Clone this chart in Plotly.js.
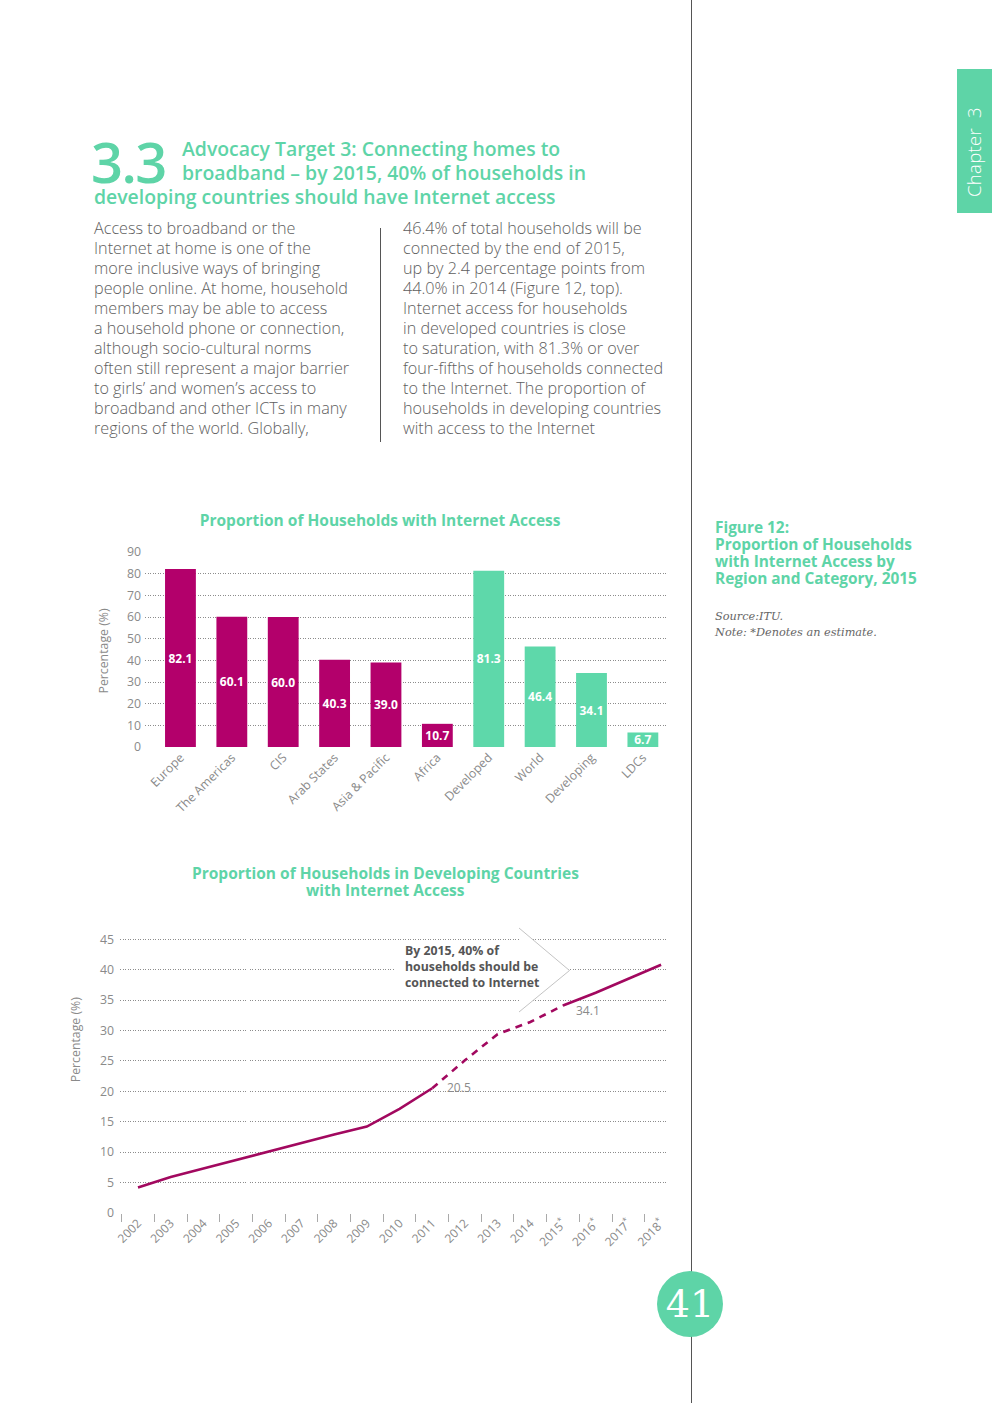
<!DOCTYPE html>
<html>
<head>
<meta charset="utf-8">
<script src="https://cdn.plot.ly/plotly-3.0.1.min.js"></script>
<style>
  html, body { margin:0; padding:0; background:#fff; }
  #page { position:relative; width:992px; height:1403px; overflow:hidden; background:#fff; font-family:"Open Sans", "Liberation Sans", sans-serif; }
  .abs { position:absolute; white-space:nowrap; }
  .teal { color:#5ed4a7; }
  .body { font-size:16.2px; line-height:20px; color:#5e5e5e; font-weight:300; }
  #bar { position:absolute; left:0; top:500px; width:700px; height:340px; }
  #line { position:absolute; left:0; top:850px; width:700px; height:420px; }
</style>
</head>
<body>
<div id="page">
  <!-- vertical page rule -->
  <div class="abs" style="left:691px;top:0;width:1px;height:1403px;background:#555;"></div>
  <!-- chapter tab -->
  <div class="abs" style="left:957px;top:69px;width:35px;height:144px;background:#5ed4a7;"></div>
  <div class="abs" style="left:974px;top:152px;transform:translate(-50%,-50%) rotate(-90deg);color:#fff;font-size:18.5px;line-height:22px;font-weight:300;letter-spacing:0.3px;">Chapter&nbsp;&nbsp;3</div>

  <!-- heading -->
  <div class="abs teal" style="left:91px;top:136px;font-size:56px;line-height:50px;font-weight:600;letter-spacing:-1.5px;">3.3</div>
  <div class="abs teal" style="left:182px;top:137px;font-size:19.4px;line-height:24px;font-weight:600;">Advocacy Target 3: Connecting homes to<br>broadband – by 2015, 40% of households in</div>
  <div class="abs teal" style="left:94px;top:185px;font-size:19.4px;line-height:24px;font-weight:600;">developing countries should have Internet access</div>

  <!-- body text -->
  <div class="abs body" style="left:94px;top:218px;">Access to broadband or the<br>Internet at home is one of the<br>more inclusive ways of bringing<br>people online. At home, household<br>members may be able to access<br>a household phone or connection,<br>although socio-cultural norms<br>often still represent a major barrier<br>to girls’ and women’s access to<br>broadband and other ICTs in many<br>regions of the world. Globally,</div>
  <div class="abs" style="left:380px;top:228px;width:1px;height:214px;background:#555;"></div>
  <div class="abs body" style="left:403px;top:218px;">46.4% of total households will be<br>connected by the end of 2015,<br>up by 2.4 percentage points from<br>44.0% in 2014 (Figure 12, top).<br>Internet access for households<br>in developed countries is close<br>to saturation, with 81.3% or over<br>four-fifths of households connected<br>to the Internet. The proportion of<br>households in developing countries<br>with access to the Internet</div>

  <!-- figure caption -->
  <div class="abs teal" style="left:715px;top:519px;font-size:15.4px;line-height:17px;font-weight:700;">Figure 12:<br>Proportion of Households<br>with Internet Access by<br>Region and Category, 2015</div>
  <div class="abs" style="left:715px;top:609px;font-family:'DejaVu Serif','Liberation Serif',serif;font-style:italic;font-size:11.3px;line-height:16px;color:#666;">Source:ITU.<br>Note: *Denotes an estimate.</div>

  <div id="bar"></div>
  <div id="line"></div>

  <!-- page number -->
  <div class="abs" style="left:657px;top:1271px;width:66px;height:66px;border-radius:50%;background:#5ed4a7;"></div>
  <div class="abs" style="left:690px;top:1304px;transform:translate(-50%,-50%);color:#fff;font-family:'DejaVu Serif','Liberation Serif',serif;font-size:38px;line-height:40px;">41</div>
</div>

<script>
// ---------- data ----------
var barCategories = ["Europe", "The Americas", "CIS", "Arab States", "Asia & Pacific", "Africa", "Developed", "World", "Developing", "LDCs"];
var barValues = [82.1, 60.1, 60.0, 40.3, 39.0, 10.7, 81.3, 46.4, 34.1, 6.7];
var barGroups = ["region", "region", "region", "region", "region", "region", "category", "category", "category", "category"];
var barTicks = [0, 10, 20, 30, 40, 50, 60, 70, 80, 90];

var lineYears = ["2002", "2003", "2004", "2005", "2006", "2007", "2008", "2009", "2010", "2011", "2012", "2013", "2014", "2015<sup>*</sup>", "2016<sup>*</sup>", "2017<sup>*</sup>", "2018<sup>*</sup>"];
var lineValues = [4.2, 5.9, 7.3, 8.7, 10.1, 11.6, 12.9, 14.2, 17.1, 20.5, 25.1, 29.4, 31.4, 34.1, 36.2, 38.5, 40.8];
// dashed segment between these two years, solid elsewhere
var dashedFrom = "2011", dashedTo = "2015<sup>*</sup>";
var lineTicks = [0, 5, 10, 15, 20, 25, 30, 35, 40, 45];
var targetNote = "By 2015, 40% of<br>households should be<br>connected to Internet";
var labelledYears = ["2011", "2015<sup>*</sup>"];

// ---------- styles ----------
var MAGENTA = "#b3006b", TEAL = "#5ed8aa", LINE = "#a2085f", TITLE = "#5ed4a7";
var GRID = "#8c8c8c", TICKTXT = "#8a8a8a";
var FONT = "Open Sans, Liberation Sans, sans-serif";
var DOTS = "1px,1.5px";

// ---------- bar chart ----------
var barColors = barGroups.map(function (g) { return g === "region" ? MAGENTA : TEAL; });
Plotly.newPlot("bar", [{
  type: "bar",
  x: barCategories,
  y: barValues,
  marker: { color: barColors },
  text: barValues.map(function (v) { return v.toFixed(1); }),
  textposition: "inside",
  insidetextanchor: "middle",
  constraintext: "none",
  textangle: 0,
  textfont: { color: "#fff", size: 12, family: FONT, weight: 700 },
  hoverinfo: "skip"
}], {
  width: 700, height: 340,
  margin: { l: 145, r: 34, t: 52, b: 93 },
  paper_bgcolor: "rgba(0,0,0,0)", plot_bgcolor: "rgba(0,0,0,0)",
  bargap: 0.4,
  showlegend: false,
  title: { text: "Proportion of Households with Internet Access", font: { family: FONT, size: 15.5, color: TITLE, weight: 700 }, x: 0.543, xanchor: "center", y: 0.94, yanchor: "middle" },
  xaxis: { type: "category", range: [-0.69, 9.45], tickangle: -45, tickfont: { family: FONT, size: 12.3, color: TICKTXT }, showgrid: false, showline: false, ticks: "", fixedrange: true },
  yaxis: { range: [0, 90], tickvals: barTicks, tickfont: { family: FONT, size: 12.3, color: TICKTXT }, showgrid: true, gridcolor: GRID, griddash: DOTS, gridwidth: 1, zeroline: false, showline: false, ticks: "", ticklabelstandoff: 3 },
  annotations: [{ text: "Percentage (%)", textangle: -90, xref: "paper", yref: "paper", x: 0, y: 0.5, xanchor: "center", yanchor: "middle", xshift: -42, yshift: -2, showarrow: false, font: { family: FONT, size: 12.3, color: TICKTXT } }]
}, { staticPlot: true });

// ---------- line chart ----------
var iFrom = lineYears.indexOf(dashedFrom), iTo = lineYears.indexOf(dashedTo);
var solidY = lineValues.map(function (v, i) { return (i <= iFrom || i >= iTo) ? v : null; });
var dashY = lineValues.map(function (v, i) { return (i >= iFrom && i <= iTo) ? v : null; });

// pixel helpers for decorations (plot area in page px: x 120..666, y 924..1213)
var L = 120, R = 666, T = 924, B = 1213;
function px(x) { return (x - L) / (R - L); }
function py(y) { return (B - y) / (B - T); }

var labelAnn = labelledYears.map(function (yr) {
  var i = lineYears.indexOf(yr);
  return { x: i, y: lineValues[i], text: lineValues[i].toFixed(1), showarrow: false, xanchor: "left", yanchor: "top",
    xshift: i === iFrom ? 13 : 11, yshift: i === iFrom ? 11 : 6, font: { family: FONT, size: 12, color: TICKTXT } };
});

Plotly.newPlot("line", [
  { type: "scatter", mode: "lines", x: lineYears, y: solidY, connectgaps: false, line: { color: LINE, width: 2.6 }, hoverinfo: "skip" },
  { type: "scatter", mode: "lines", x: lineYears, y: dashY, connectgaps: false, line: { color: LINE, width: 2.6, dash: "7px,6px" }, hoverinfo: "skip" }
], {
  width: 700, height: 420,
  margin: { l: 120, r: 34, t: 74, b: 57 },
  paper_bgcolor: "rgba(0,0,0,0)", plot_bgcolor: "rgba(0,0,0,0)",
  showlegend: false,
  xaxis: { type: "category", range: [-0.55, 16.15], tickson: "boundaries", ticks: "outside", ticklen: 8, tickcolor: "#aaa", tickwidth: 1, tickangle: -45, tickfont: { family: FONT, size: 12, color: TICKTXT }, showline: false, showgrid: false, fixedrange: true },
  yaxis: { range: [0, 47.5], tickvals: lineTicks, tickfont: { family: FONT, size: 12.3, color: TICKTXT }, showgrid: true, gridcolor: GRID, griddash: DOTS, gridwidth: 1, zeroline: false, showline: false, ticks: "", ticklabelstandoff: 5 },
  shapes: [
    { type: "rect", xref: "paper", yref: "paper", x0: px(395), x1: px(520), y0: py(996), y1: py(944), fillcolor: "#fff", line: { width: 0 }, layer: "above" },
    { type: "path", xref: "paper", yref: "paper", path: "M" + px(519) + "," + py(928) + " L" + px(569.5) + "," + py(970.5) + " L" + px(519) + "," + py(1012) + " Z", fillcolor: "#fff", line: { width: 0 }, layer: "above" },
    { type: "path", xref: "paper", yref: "paper", path: "M" + px(519) + "," + py(928) + " L" + px(569.5) + "," + py(970.5) + " L" + px(519) + "," + py(1012), line: { color: "#c4c4c4", width: 1 }, layer: "above" }
  ],
  annotations: [
    { text: "Proportion of Households in Developing Countries", xref: "paper", yref: "paper", x: px(385), y: py(873), xanchor: "center", yanchor: "middle", showarrow: false, font: { family: FONT, size: 15.5, color: TITLE, weight: 700 } },
    { text: "with Internet Access", xref: "paper", yref: "paper", x: px(385), y: py(890), xanchor: "center", yanchor: "middle", showarrow: false, font: { family: FONT, size: 15.5, color: TITLE, weight: 700 } },
    { text: "Percentage (%)", textangle: -90, xref: "paper", yref: "y", x: 0, y: 28.4, xanchor: "center", yanchor: "middle", xshift: -45, showarrow: false, font: { family: FONT, size: 12.3, color: TICKTXT } },
    { text: "<b>" + targetNote + "</b>", xref: "paper", yref: "paper", x: px(403), y: py(967), xanchor: "left", yanchor: "middle", align: "left", showarrow: false, font: { family: FONT, size: 12.3, color: "#555" } }
  ].concat(labelAnn)
}, { staticPlot: true });
</script>
</body>
</html>
